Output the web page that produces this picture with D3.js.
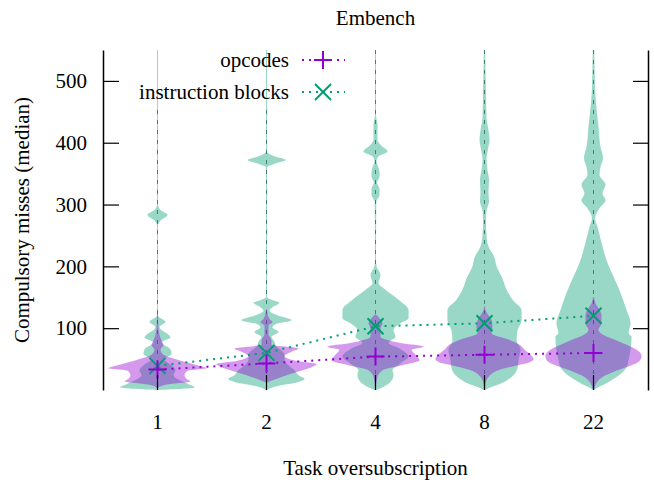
<!DOCTYPE html>
<html>
<head>
<meta charset="utf-8">
<script src="https://cdn.jsdelivr.net/npm/d3@7"></script>
<style>
  body { margin: 0; background: #fff; }
  svg { display: block; }
  svg text { font-family: "Liberation Serif", "DejaVu Serif", serif; }
</style>
</head>
<body>
<svg width="654" height="485"></svg>
<script>
// task oversubscription levels
var categories = ["1", "2", "4", "8", "22"];
var yTicks = [100, 200, 300, 400, 500];

// medians per level
var opcodesMedian = [33, 43, 54, 57, 60];
var blocksMedian = [39, 60, 103, 108, 120];

// violin profiles: [compulsory misses, relative density], one list per level
var opcodesShapes = [
  [[125, 0.5], [100, 1], [80, 4], [73, 6], [65, 3], [57, 6], [49, 20], [40, 40], [35, 49], [31, 30],
   [24, 27], [17, 30], [14, 33], [8, 7], [3, 0]],
  [[130, 0.5], [115, 3], [110, 6], [104, 2], [90, 2], [80, 5], [73, 5], [67, 32], [62, 25], [55, 18],
   [47, 30], [42, 50], [37, 45], [32, 36], [24, 20], [17, 8], [12, 0]],
  [[122, 0.5], [116, 4], [108, 7], [100, 5], [86, 5], [76, 25], [70, 48], [65, 36], [57, 40], [48, 44],
   [40, 27], [32, 7], [21, 2], [2, 0.5], [0, 0]],
  [[135, 0.5], [129, 1], [121, 4], [113, 7], [102, 8], [92, 7], [86, 15], [81, 25], [73, 35], [65, 40],
   [57, 46], [50, 49], [44, 44], [40, 33], [32, 14], [21, 4], [10, 1], [0, 0]],
  [[150, 0.5], [140, 2], [130, 6], [121, 8], [108, 8], [97, 5], [89, 10], [81, 22], [73, 33], [65, 43],
   [55, 48], [47, 46], [40, 38], [32, 24], [21, 9], [8, 2], [0, 0]]
];

var blocksShapes = [
  [[560, 0.5], [300, 0.5], [291, 3], [283, 10], [274, 3], [265, 0.5], [120, 0.5], [110, 8], [102, 2],
   [85, 13], [77, 4], [66, 13], [58, 14], [50, 6], [40, 14], [32, 18], [24, 16], [16, 22], [10, 30],
   [4, 37], [0, 0]],
  [[560, 0.5], [386, 0.5], [378, 8], [372, 19], [366, 8], [360, 0.5], [150, 0.5], [146, 5], [141, 13],
   [134, 6], [128, 3], [120, 12], [113, 25], [107, 10], [101, 6], [94, 12], [86, 5], [78, 8], [70, 10],
   [65, 14], [57, 18], [49, 18], [40, 22], [32, 28], [24, 32], [18, 38], [12, 30], [6, 10], [0, 0]],
  [[560, 0.5], [445, 0.5], [430, 2], [405, 2], [395, 6], [386, 12], [378, 3], [370, 1], [360, 3],
   [352, 4], [345, 4], [336, 1.5], [325, 4], [315, 4], [305, 0.8], [210, 0.5], [200, 1], [186, 5],
   [173, 3], [162, 10], [146, 23], [129, 33], [116, 33], [108, 25], [97, 18], [86, 20], [76, 13],
   [68, 23], [54, 33], [43, 25], [32, 17], [24, 18], [13, 15], [3, 5], [0, 0]],
  [[560, 0.5], [520, 1], [480, 1.5], [440, 2], [420, 4], [405, 5], [390, 3.5], [372, 2], [356, 3],
   [340, 4.5], [320, 4], [305, 4.5], [290, 2], [275, 1.5], [250, 2], [232, 4], [214, 10], [200, 12],
   [180, 18], [162, 22], [146, 28], [129, 37], [113, 37], [97, 33], [81, 32], [65, 36], [49, 34],
   [36, 33], [21, 27], [11, 17], [3, 4], [0, 0]],
  [[560, 0.5], [530, 1], [490, 1.5], [464, 2.5], [426, 5], [393, 7], [375, 9.5], [361, 7], [348, 6],
   [332, 12], [318, 9], [307, 12], [294, 6], [278, 1.5], [264, 4], [238, 8], [210, 13], [183, 20],
   [157, 27], [129, 33], [108, 37], [92, 35], [86, 38], [65, 37], [49, 35], [37, 33], [21, 23],
   [11, 13], [3, 3], [0, 0]]
];

document.addEventListener("DOMContentLoaded", function () {

  var margin = {top: 50, right: 6, bottom: 95, left: 103};
  var width = 654 - margin.left - margin.right;
  var height = 485 - margin.top - margin.bottom;
  var purple = "#9400d3", green = "#009e73";
  var serif = "Liberation Serif, DejaVu Serif, serif";

  var svg = d3.select("svg");
  var g = svg.append("g")
    .attr("transform", "translate(" + margin.left + "," + margin.top + ")");

  var x = d3.scaleBand().domain(categories).range([0, width]);
  var y = d3.scaleLinear().domain([0, 550]).range([height, 0]);
  var w = d3.scaleLinear().domain([0, 50]).range([0, x.bandwidth() * 0.46]);

  g.append("clipPath").attr("id", "plotclip")
    .append("rect").attr("width", width).attr("height", height);

  // dashed vertical grid
  g.append("g")
    .selectAll("line")
    .data(categories)
    .enter()
    .append("line")
    .attr("x1", function (d) { return x(d) + x.bandwidth() / 2 })
    .attr("x2", function (d) { return x(d) + x.bandwidth() / 2 })
    .attr("y1", 0)
    .attr("y2", height)
    .attr("stroke", "#6e6e6e")
    .attr("stroke-dasharray", "4 6");

  // opaque key background
  g.append("rect")
    .attr("x", 20).attr("y", 0)
    .attr("width", 225).attr("height", 60)
    .attr("fill", "#fff");

  function drawViolins(shapes, colour) {
    shapes.forEach(function (shape, i) {
      var cx = x(categories[i]) + x.bandwidth() / 2;
      var pts = shape.slice().sort(function (a, b) { return a[0] - b[0] });
      var area = d3.area()
        .curve(d3.curveMonotoneY)
        .y(function (d) { return y(d[0]) })
        .x0(function (d) { return cx - Math.max(w(d[1]), 0.5) })
        .x1(function (d) { return cx + Math.max(w(d[1]), 0.5) });
      g.append("path")
        .datum(pts)
        .attr("clip-path", "url(#plotclip)")
        .attr("d", area)
        .attr("fill", colour)
        .attr("fill-opacity", 0.4);
    });
  }

  drawViolins(blocksShapes, green);
  drawViolins(opcodesShapes, purple);

  // median lines and markers
  var plusPath = "M-9,0H9M0,-9V9";
  var crossPath = "M-8,-8L8,8M-8,8L8,-8";

  function drawMedians(values, colour, marker) {
    var line = d3.line()
      .x(function (d, i) { return x(categories[i]) + x.bandwidth() / 2 })
      .y(function (d) { return y(d) });
    g.append("path")
      .datum(values)
      .attr("d", line)
      .attr("fill", "none")
      .attr("stroke", colour)
      .attr("stroke-width", 2)
      .attr("stroke-dasharray", "2 5");
    g.append("g")
      .selectAll("path")
      .data(values)
      .enter()
      .append("path")
      .attr("transform", function (d, i) {
        return "translate(" + (x(categories[i]) + x.bandwidth() / 2) + "," + y(d) + ")"
      })
      .attr("d", marker)
      .attr("stroke", colour)
      .attr("stroke-width", 2)
      .attr("fill", "none");
  }

  drawMedians(blocksMedian, green, crossPath);
  drawMedians(opcodesMedian, purple, plusPath);

  // axes
  var fontSize = 21;
  var yAxis = g.append("g")
    .call(d3.axisLeft(y).tickValues(yTicks).tickSize(-16).tickSizeOuter(0).tickPadding(16));
  var yAxisR = g.append("g")
    .attr("transform", "translate(" + width + ",0)")
    .call(d3.axisRight(y).tickValues(yTicks).tickSize(-15).tickSizeOuter(0).tickFormat(""));
  var xAxis = g.append("g")
    .attr("transform", "translate(0," + height + ")")
    .call(d3.axisBottom(x).tickSize(-15).tickSizeOuter(0).tickPadding(24));
  xAxis.select(".domain").remove();

  [yAxis, yAxisR, xAxis].forEach(function (a) {
    a.selectAll("line").attr("stroke", "#000").attr("stroke-width", 1.2);
    a.selectAll(".domain").attr("stroke", "#000").attr("stroke-width", 1.5);
    a.selectAll("text")
      .attr("fill", "#000")
      .style("font-family", serif)
      .style("font-size", fontSize + "px");
  });

  // titles
  svg.append("text")
    .attr("x", margin.left + width / 2)
    .attr("y", 25)
    .attr("text-anchor", "middle")
    .style("font-family", serif)
    .style("font-size", fontSize + "px")
    .text("Embench");

  svg.append("text")
    .attr("x", margin.left + width / 2)
    .attr("y", 475)
    .attr("text-anchor", "middle")
    .style("font-family", serif)
    .style("font-size", fontSize + "px")
    .text("Task oversubscription");

  svg.append("text")
    .attr("transform", "translate(29," + (margin.top + height / 2) + ") rotate(-90)")
    .attr("text-anchor", "middle")
    .style("font-family", serif)
    .style("font-size", fontSize + "px")
    .text("Compulsory misses (median)");

  // key
  var keyItems = [
    {label: "opcodes", colour: purple, marker: plusPath, y: 60},
    {label: "instruction blocks", colour: green, marker: crossPath, y: 92}
  ];
  var key = svg.append("g")
    .selectAll("g")
    .data(keyItems)
    .enter()
    .append("g")
    .attr("transform", function (d) { return "translate(0," + d.y + ")" });
  key.append("text")
    .attr("x", 289)
    .attr("y", 7)
    .attr("text-anchor", "end")
    .style("font-family", serif)
    .style("font-size", fontSize + "px")
    .text(function (d) { return d.label });
  key.append("line")
    .attr("x1", 302).attr("x2", 345)
    .attr("stroke", function (d) { return d.colour })
    .attr("stroke-width", 2)
    .attr("stroke-dasharray", "2 5");
  key.append("path")
    .attr("transform", "translate(323,0)")
    .attr("d", function (d) { return d.marker })
    .attr("stroke", function (d) { return d.colour })
    .attr("stroke-width", 2)
    .attr("fill", "none");
});
</script>
</body>
</html>
